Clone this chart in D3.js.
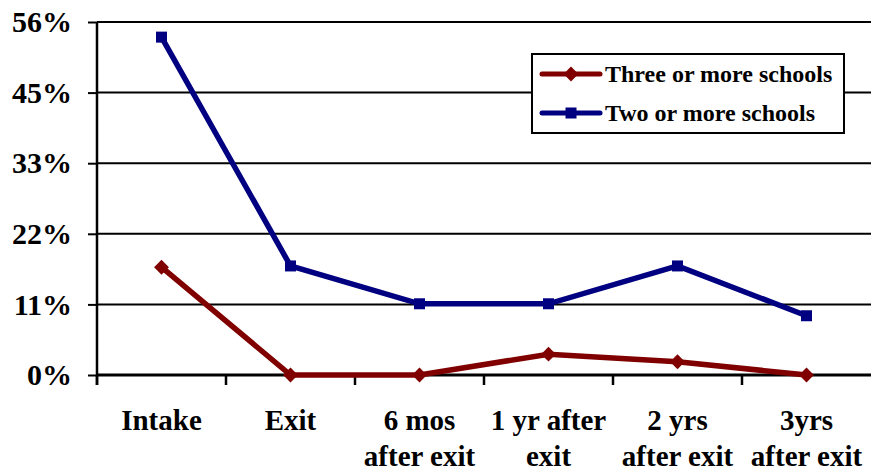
<!DOCTYPE html>
<html>
<head>
<meta charset="utf-8">
<script src="https://cdn.jsdelivr.net/npm/d3@7"></script>
<style>
  body { margin: 0; background: #fff; }
  svg text { font-family: "Liberation Serif", "Times New Roman", serif; font-weight: bold; fill: #000; }
</style>
</head>
<body>
<svg id="chart" width="871" height="472"></svg>
<script>
// School mobility chart
const categories = ['Intake', 'Exit', '6 mos|after exit', '1 yr after|exit', '2 yrs|after exit', '3yrs|after exit'];
const threeOrMore = [17.1, 0, 0, 3.3, 2.1, 0];
const twoOrMore = [53.6, 17.3, 11.3, 11.3, 17.3, 9.4];
const yTickValues = [0, 11.2, 22.4, 33.6, 44.8, 56];
const yTickLabels = ['0%', '11%', '22%', '33%', '45%', '56%'];
const seriesNames = ['Three or more schools', 'Two or more schools'];

(function() {
    const svg = d3.select('#chart');
    const left = 97, right = 871, top = 22, bottom = 375;

    const x = d3.scaleBand()
        .domain(categories)
        .range([left, right]);
    const cx = c => x(c) + x.bandwidth() / 2;

    const y = d3.scaleLinear()
        .domain([0, 56])
        .range([bottom, top]);

    // gridlines
    svg.append('g')
        .selectAll('line')
        .data(yTickValues.slice(1))
        .enter().append('line')
        .attr('x1', left)
        .attr('x2', right)
        .attr('y1', d => y(d))
        .attr('y2', d => y(d))
        .attr('stroke', '#000')
        .attr('stroke-width', 2);

    // y axis
    const yAxis = svg.append('g')
        .attr('transform', `translate(${left},0)`)
        .call(d3.axisLeft(y)
            .tickValues(yTickValues)
            .tickSize(9)
            .tickPadding(16)
            .tickFormat((d, i) => yTickLabels[i]));
    yAxis.select('.domain').remove();
    yAxis.selectAll('line').attr('stroke', '#000').attr('stroke-width', 2);
    yAxis.selectAll('text')
        .attr('font-size', '30px')
        .attr('font-family', '"Liberation Serif", serif')
        .attr('font-weight', 'bold');

    svg.append('line')
        .attr('x1', left).attr('x2', left)
        .attr('y1', top).attr('y2', bottom + 10)
        .attr('stroke', '#000')
        .attr('stroke-width', 2.5);

    // x axis
    const xTicks = categories.map(c => x(c)).slice(1);
    xTicks.push(left);
    svg.append('g')
        .selectAll('line')
        .data(xTicks)
        .enter().append('line')
        .attr('x1', d => d).attr('x2', d => d)
        .attr('y1', bottom).attr('y2', bottom + 10)
        .attr('stroke', '#000')
        .attr('stroke-width', 2.5);

    svg.append('line')
        .attr('x1', left).attr('x2', right)
        .attr('y1', bottom).attr('y2', bottom)
        .attr('stroke', '#000')
        .attr('stroke-width', 3);

    // category labels
    svg.append('g')
        .selectAll('text')
        .data(categories)
        .enter().append('text')
        .attr('text-anchor', 'middle')
        .attr('font-size', '29px')
        .attr('y', 430)
        .each(function(d) {
            const t = d3.select(this);
            d.split('|').forEach((p, i) => {
                t.append('tspan')
                    .attr('x', cx(d))
                    .attr('dy', i === 0 ? 0 : 36)
                    .text(p);
            });
        });

    // lines
    const line = d3.line()
        .x((d, i) => cx(categories[i]))
        .y(d => y(d));

    svg.append('path')
        .datum(twoOrMore)
        .attr('fill', 'none')
        .attr('stroke', '#000080')
        .attr('stroke-width', 5.5)
        .attr('d', line);

    svg.append('g')
        .selectAll('rect')
        .data(twoOrMore)
        .enter().append('rect')
        .attr('x', (d, i) => cx(categories[i]) - 5.5)
        .attr('y', d => y(d) - 5.5)
        .attr('width', 11)
        .attr('height', 11)
        .attr('fill', '#000080');

    svg.append('path')
        .datum(threeOrMore)
        .attr('fill', 'none')
        .attr('stroke', '#800000')
        .attr('stroke-width', 5.5)
        .attr('d', line);

    svg.append('g')
        .selectAll('path')
        .data(threeOrMore)
        .enter().append('path')
        .attr('transform', (d, i) => `translate(${cx(categories[i])},${y(d)}) rotate(45)`)
        .attr('d', d3.symbol().type(d3.symbolSquare).size(110))
        .attr('fill', '#800000');

    // legend
    const legend = svg.append('g').attr('transform', 'translate(532,54)');
    legend.append('rect')
        .attr('width', 312)
        .attr('height', 79)
        .attr('fill', '#fff')
        .attr('stroke', '#000')
        .attr('stroke-width', 2);

    const colors = ['#800000', '#000080'];
    seriesNames.forEach((name, i) => {
        const item = legend.append('g').attr('transform', `translate(0,${20 + i * 39})`);
        item.append('line')
            .attr('x1', 10).attr('x2', 68)
            .attr('stroke', colors[i])
            .attr('stroke-width', 5)
            .attr('stroke-linecap', 'round');
        if (i === 0) {
            item.append('path')
                .attr('transform', 'translate(39,0) rotate(45)')
                .attr('d', d3.symbol().type(d3.symbolSquare).size(110))
                .attr('fill', colors[i]);
        } else {
            item.append('rect')
                .attr('x', 33.5).attr('y', -5.5)
                .attr('width', 11).attr('height', 11)
                .attr('fill', colors[i]);
        }
        item.append('text')
            .attr('x', 73)
            .attr('y', 8)
            .attr('font-size', '24px')
            .text(name);
    });
})();
</script>
</body>
</html>
